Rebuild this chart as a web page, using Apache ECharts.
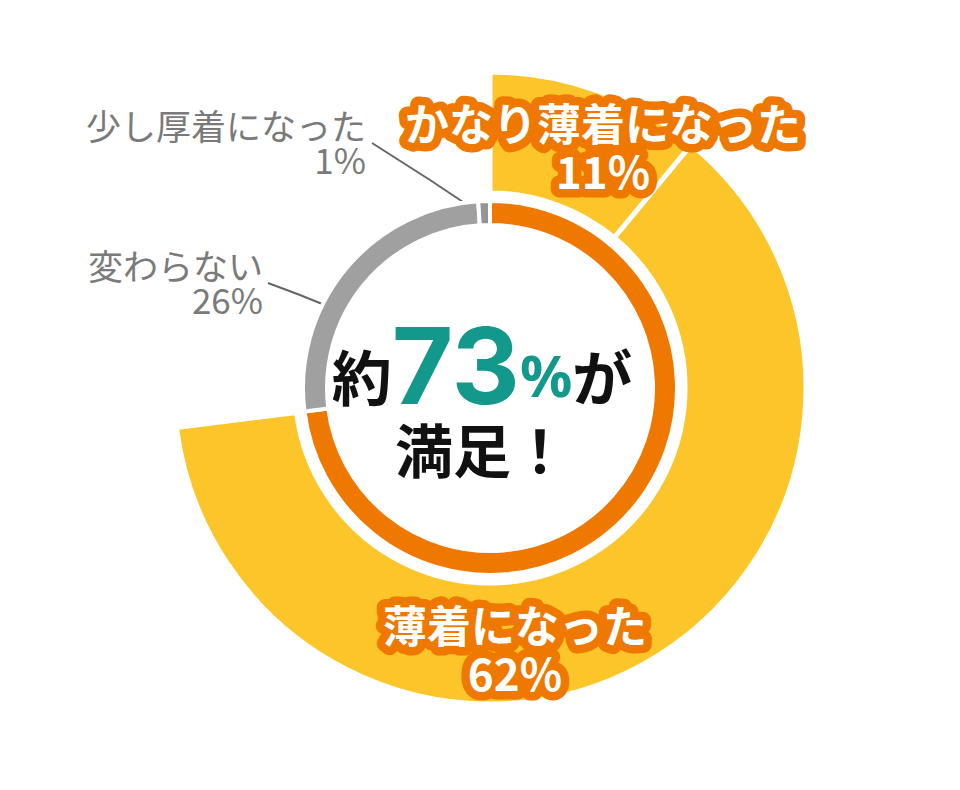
<!DOCTYPE html>
<html>
<head>
<meta charset="utf-8">
<script src="https://cdn.jsdelivr.net/npm/echarts@6/dist/echarts.min.js"></script>
<style>
html, body { margin: 0; padding: 0; background: #fff; }
#contain { width: 960px; height: 790px; }
/* 文字の縁取りを丸く */
#contain svg text, #contain svg tspan { stroke-linejoin: round !important; paint-order: stroke !important; }
</style>
</head>
<body>
<div id="contain"></div>
<script>
// 回答カテゴリと割合(%)
var categories = ['かなり薄着になった', '薄着になった', '変わらない', '少し厚着になった'];
var values = [11, 62, 26, 1];
// 満足とみなすカテゴリ数(先頭から)
var satisfiedCount = 2;
var satisfiedLabel = '満足';

var colorOrange = '#ee7800';
var colorYellow = '#fcc62a';
var colorGrey = '#a0a0a0';
var colorGreyDark = '#959595';
var colorTeal = '#13988c';
var center = [490, 388];

var satisfiedTotal = 0;
for (var i = 0; i < satisfiedCount; i++) {
    satisfiedTotal += values[i];
}
var restTotal = 100 - satisfiedTotal;

// 外側リング(満足の内訳)
var outerData = [];
for (var i = 0; i < satisfiedCount; i++) {
    outerData.push({ name: categories[i], value: values[i] });
}
outerData.push({
    name: 'rest',
    value: restTotal,
    itemStyle: { color: 'transparent', borderWidth: 0 },
    label: { show: false },
    labelLine: { show: false }
});

// 内側リング
var innerData = [{
    name: satisfiedLabel,
    value: satisfiedTotal,
    itemStyle: { color: colorOrange },
    label: { show: false },
    labelLine: { show: false }
}];
var innerColors = [colorGrey, colorGreyDark];
for (var i = satisfiedCount; i < categories.length; i++) {
    innerData.push({
        name: categories[i],
        value: values[i],
        itemStyle: { color: innerColors[i - satisfiedCount] }
    });
}

// ラベル位置
var outerLabelPos = { 0: [603, 146], 1: [515, 648] };
var innerLabelPos = {
    1: { x: 263, y: 281, line: [[337, 310], [300, 295], [268, 283]] },
    2: { x: 366, y: 141, line: [[481, 214], [430, 180], [372, 143]] }
};

var option = {
    animation: false,
    title: {
        text: '{a|約}{b|' + satisfiedTotal + '}{c|%}{a|が}\n{d|' + satisfiedLabel + '！}',
        left: 477,
        top: 328,
        textAlign: 'center',
        textStyle: {
            fontFamily: 'Noto Sans CJK JP',
            rich: {
                a: {
                    fontSize: 60, fontWeight: 'bold', color: '#111',
                    fontFamily: 'Noto Sans CJK JP',
                    textBorderColor: '#fff', textBorderWidth: 12, lineHeight: 82
                },
                b: {
                    fontSize: 106, fontWeight: 'bold', color: colorTeal,
                    fontFamily: 'Inter',
                    textBorderColor: '#fff', textBorderWidth: 12, lineHeight: 82,
                    padding: [0, 0, 18, 0]
                },
                c: {
                    fontSize: 58, fontWeight: 'bold', color: colorTeal,
                    fontFamily: 'Noto Sans',
                    textBorderColor: '#fff', textBorderWidth: 12, lineHeight: 82
                },
                d: {
                    fontSize: 58, fontWeight: 'bold', color: '#111',
                    fontFamily: 'Noto Sans CJK JP',
                    textBorderColor: '#fff', textBorderWidth: 12, lineHeight: 66
                }
            }
        }
    },
    series: [{
        name: 'outer',
        type: 'pie',
        center: center,
        radius: [195, 316],
        startAngle: 90,
        clockwise: true,
        avoidLabelOverlap: false,
        silent: true,
        itemStyle: {
            color: colorYellow,
            borderColor: '#fff',
            borderWidth: 5
        },
        label: {
            show: true,
            position: 'outside',
            formatter: '{b}\n{c}%',
            color: '#fff',
            fontSize: 44,
            fontWeight: 'bold',
            fontFamily: 'Noto Sans CJK JP',
            lineHeight: 48,
            textBorderColor: colorOrange,
            textBorderWidth: 17,
            align: 'center'
        },
        labelLine: { show: false },
        labelLayout: function (params) {
            var p = outerLabelPos[params.dataIndex];
            if (!p) return {};
            return { x: p[0], y: p[1], align: 'center', verticalAlign: 'middle' };
        },
        data: outerData
    }, {
        name: 'inner',
        type: 'pie',
        center: center,
        radius: [163, 187],
        startAngle: 90,
        clockwise: true,
        avoidLabelOverlap: false,
        silent: true,
        itemStyle: {
            borderColor: '#fff',
            borderWidth: 4
        },
        label: {
            show: true,
            position: 'outside',
            formatter: '{b}\n{c}%',
            color: '#7a7a7a',
            fontSize: 35,
            fontFamily: 'Noto Sans CJK JP',
            lineHeight: 34,
            align: 'right'
        },
        labelLine: {
            show: true,
            lineStyle: { color: '#666', width: 2 }
        },
        labelLayout: function (params) {
            var p = innerLabelPos[params.dataIndex];
            if (!p) return {};
            return {
                x: p.x, y: p.y, align: 'right', verticalAlign: 'middle',
                labelLinePoints: p.line
            };
        },
        data: innerData
    }]
};

var myChart = echarts.init(document.getElementById('contain'), null, { renderer: 'svg' });
myChart.setOption(option);
</script>
</body>
</html>
